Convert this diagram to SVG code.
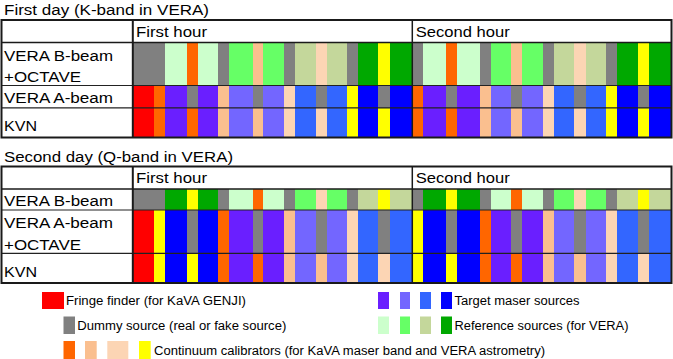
<svg xmlns="http://www.w3.org/2000/svg" width="673" height="359" viewBox="0 0 673 359">
<style>
.g{fill:#808080}.lg{fill:#CCFFCC}.o{fill:#FF6600}.gr{fill:#66FF66}.p{fill:#FABF8F}.lp{fill:#FCD5B4}.ol{fill:#C4D79B}.dg{fill:#00A800}.y{fill:#FFFF00}.r{fill:#FF0000}.pu{fill:#6A1FFF}.mp{fill:#7366FF}.b3{fill:#3366FF}.b{fill:#0000FF}
.strip rect{shape-rendering:crispEdges}
text{font-family:"Liberation Sans",Arial,sans-serif;font-size:14px;fill:#000}
.lt{font-size:12.5px}
.frame{fill:none;stroke:#1a1a1a;stroke-width:2}
.ln{stroke:#1a1a1a;stroke-width:1.5;fill:none}
.rl{stroke:#222;stroke-width:1.2;fill:none}
</style>
<rect width="673" height="359" fill="#fff"/>

<g id="day1">
<text x="4" y="14.5" textLength="205" lengthAdjust="spacingAndGlyphs">First day (K-band in VERA)</text>
<g id="day1-table">
<rect x="1.5" y="20" width="670" height="117.5" fill="#fff"/>
<g id="day1-vera-b" class="strip" transform="translate(0,42.5) scale(1,43)">
<rect class="g" x="133" width="32" height="1"/><rect class="lg" x="165" width="22" height="1"/><rect class="o" x="187" width="11" height="1"/><rect class="lg" x="198" width="20" height="1"/><rect class="g" x="218" width="11" height="1"/><rect class="gr" x="229" width="24" height="1"/><rect class="p" x="253" width="10" height="1"/><rect class="gr" x="263" width="21" height="1"/><rect class="g" x="284" width="11" height="1"/><rect class="ol" x="295" width="21" height="1"/><rect class="lp" x="316" width="11" height="1"/><rect class="ol" x="327" width="20" height="1"/><rect class="g" x="347" width="11" height="1"/><rect class="dg" x="358" width="20" height="1"/><rect class="y" x="378" width="12" height="1"/><rect class="dg" x="390" width="22" height="1"/>
<rect class="g" x="412" width="11" height="1"/><rect class="lg" x="423" width="23" height="1"/><rect class="o" x="446" width="11" height="1"/><rect class="lg" x="457" width="23" height="1"/><rect class="g" x="480" width="11" height="1"/><rect class="gr" x="491" width="20" height="1"/><rect class="p" x="511" width="11" height="1"/><rect class="gr" x="522" width="21" height="1"/><rect class="g" x="543" width="11" height="1"/><rect class="ol" x="554" width="20" height="1"/><rect class="lp" x="574" width="12" height="1"/><rect class="ol" x="586" width="20" height="1"/><rect class="g" x="606" width="11" height="1"/><rect class="dg" x="617" width="21" height="1"/><rect class="y" x="638" width="11" height="1"/><rect class="dg" x="649" width="22" height="1"/>
</g>
<g id="day1-vera-a" class="strip" transform="translate(0,85.5) scale(1,22.3)">
<rect class="r" x="133" width="21" height="1"/><rect class="o" x="154" width="11" height="1"/><rect class="pu" x="165" width="22" height="1"/><rect class="g" x="187" width="11" height="1"/><rect class="pu" x="198" width="20" height="1"/><rect class="p" x="218" width="11" height="1"/><rect class="mp" x="229" width="24" height="1"/><rect class="g" x="253" width="10" height="1"/><rect class="mp" x="263" width="21" height="1"/><rect class="lp" x="284" width="11" height="1"/><rect class="b3" x="295" width="21" height="1"/><rect class="g" x="316" width="11" height="1"/><rect class="b3" x="327" width="20" height="1"/><rect class="y" x="347" width="11" height="1"/><rect class="b" x="358" width="20" height="1"/><rect class="g" x="378" width="12" height="1"/><rect class="b" x="390" width="22" height="1"/>
<rect class="o" x="412" width="11" height="1"/><rect class="pu" x="423" width="23" height="1"/><rect class="g" x="446" width="11" height="1"/><rect class="pu" x="457" width="23" height="1"/><rect class="p" x="480" width="11" height="1"/><rect class="mp" x="491" width="20" height="1"/><rect class="g" x="511" width="11" height="1"/><rect class="mp" x="522" width="21" height="1"/><rect class="lp" x="543" width="11" height="1"/><rect class="b3" x="554" width="20" height="1"/><rect class="g" x="574" width="12" height="1"/><rect class="b3" x="586" width="20" height="1"/><rect class="y" x="606" width="11" height="1"/><rect class="b" x="617" width="21" height="1"/><rect class="g" x="638" width="11" height="1"/><rect class="b" x="649" width="22" height="1"/>
</g>
<g id="day1-kvn" class="strip" transform="translate(0,107.8) scale(1,29.4)">
<rect class="r" x="133" width="21" height="1"/><rect class="o" x="154" width="11" height="1"/><rect class="pu" x="165" width="22" height="1"/><rect class="o" x="187" width="11" height="1"/><rect class="pu" x="198" width="20" height="1"/><rect class="p" x="218" width="11" height="1"/><rect class="mp" x="229" width="24" height="1"/><rect class="p" x="253" width="10" height="1"/><rect class="mp" x="263" width="21" height="1"/><rect class="lp" x="284" width="11" height="1"/><rect class="b3" x="295" width="21" height="1"/><rect class="lp" x="316" width="11" height="1"/><rect class="b3" x="327" width="20" height="1"/><rect class="y" x="347" width="11" height="1"/><rect class="b" x="358" width="20" height="1"/><rect class="y" x="378" width="12" height="1"/><rect class="b" x="390" width="22" height="1"/>
<rect class="o" x="412" width="11" height="1"/><rect class="pu" x="423" width="23" height="1"/><rect class="o" x="446" width="11" height="1"/><rect class="pu" x="457" width="23" height="1"/><rect class="p" x="480" width="11" height="1"/><rect class="mp" x="491" width="20" height="1"/><rect class="p" x="511" width="11" height="1"/><rect class="mp" x="522" width="21" height="1"/><rect class="lp" x="543" width="11" height="1"/><rect class="b3" x="554" width="20" height="1"/><rect class="lp" x="574" width="12" height="1"/><rect class="b3" x="586" width="20" height="1"/><rect class="y" x="606" width="11" height="1"/><rect class="b" x="617" width="21" height="1"/><rect class="y" x="638" width="11" height="1"/><rect class="b" x="649" width="22" height="1"/>
</g>
<g id="day1-lines">
<line class="ln" x1="1.5" y1="42.5" x2="671.5" y2="42.5"/>
<line class="rl" x1="1.5" y1="85.5" x2="671.5" y2="85.5"/>
<line class="rl" x1="1.5" y1="107.8" x2="671.5" y2="107.8"/>
<line class="frame" x1="132.8" y1="20" x2="132.8" y2="137.5"/>
<line class="ln" x1="412.3" y1="20" x2="412.3" y2="137.5"/>
<rect class="frame" x="1.5" y="20" width="670" height="117.5"/>
</g>
<text x="136" y="36.5" textLength="71" lengthAdjust="spacingAndGlyphs">First hour</text>
<text x="415.7" y="36.5" textLength="94" lengthAdjust="spacingAndGlyphs">Second hour</text>
<text x="4" y="60.5" textLength="109" lengthAdjust="spacingAndGlyphs">VERA B-beam</text>
<text x="4" y="81.5" textLength="77" lengthAdjust="spacingAndGlyphs">+OCTAVE</text>
<text x="4" y="103" textLength="109" lengthAdjust="spacingAndGlyphs">VERA A-beam</text>
<text x="4" y="130.5" textLength="33" lengthAdjust="spacingAndGlyphs">KVN</text>
</g>
</g>

<g id="day2">
<text x="4" y="161.5" textLength="229" lengthAdjust="spacingAndGlyphs">Second day (Q-band in VERA)</text>
<g id="day2-table">
<rect x="1.5" y="166.5" width="670" height="116.5" fill="#fff"/>
<g id="day2-vera-b" class="strip" transform="translate(0,189) scale(1,21)">
<rect class="g" x="133" width="32" height="1"/><rect class="dg" x="165" width="22" height="1"/><rect class="y" x="187" width="11" height="1"/><rect class="dg" x="198" width="20" height="1"/><rect class="g" x="218" width="11" height="1"/><rect class="lg" x="229" width="24" height="1"/><rect class="o" x="253" width="10" height="1"/><rect class="lg" x="263" width="21" height="1"/><rect class="g" x="284" width="11" height="1"/><rect class="gr" x="295" width="21" height="1"/><rect class="lp" x="316" width="11" height="1"/><rect class="gr" x="327" width="20" height="1"/><rect class="g" x="347" width="11" height="1"/><rect class="ol" x="358" width="20" height="1"/><rect class="y" x="378" width="12" height="1"/><rect class="ol" x="390" width="22" height="1"/>
<rect class="g" x="412" width="11" height="1"/><rect class="dg" x="423" width="23" height="1"/><rect class="y" x="446" width="11" height="1"/><rect class="dg" x="457" width="23" height="1"/><rect class="g" x="480" width="11" height="1"/><rect class="lg" x="491" width="20" height="1"/><rect class="o" x="511" width="11" height="1"/><rect class="lg" x="522" width="21" height="1"/><rect class="g" x="543" width="11" height="1"/><rect class="gr" x="554" width="20" height="1"/><rect class="lp" x="574" width="12" height="1"/><rect class="gr" x="586" width="20" height="1"/><rect class="g" x="606" width="11" height="1"/><rect class="ol" x="617" width="21" height="1"/><rect class="y" x="638" width="11" height="1"/><rect class="ol" x="649" width="22" height="1"/>
</g>
<g id="day2-vera-a" class="strip" transform="translate(0,210) scale(1,43.3)">
<rect class="r" x="133" width="21" height="1"/><rect class="y" x="154" width="11" height="1"/><rect class="b" x="165" width="22" height="1"/><rect class="g" x="187" width="11" height="1"/><rect class="b" x="198" width="20" height="1"/><rect class="o" x="218" width="11" height="1"/><rect class="pu" x="229" width="24" height="1"/><rect class="g" x="253" width="10" height="1"/><rect class="pu" x="263" width="21" height="1"/><rect class="p" x="284" width="11" height="1"/><rect class="mp" x="295" width="21" height="1"/><rect class="g" x="316" width="11" height="1"/><rect class="mp" x="327" width="20" height="1"/><rect class="lp" x="347" width="11" height="1"/><rect class="b3" x="358" width="20" height="1"/><rect class="g" x="378" width="12" height="1"/><rect class="b3" x="390" width="22" height="1"/>
<rect class="y" x="412" width="11" height="1"/><rect class="b" x="423" width="23" height="1"/><rect class="g" x="446" width="11" height="1"/><rect class="b" x="457" width="23" height="1"/><rect class="o" x="480" width="11" height="1"/><rect class="pu" x="491" width="20" height="1"/><rect class="g" x="511" width="11" height="1"/><rect class="pu" x="522" width="21" height="1"/><rect class="p" x="543" width="11" height="1"/><rect class="mp" x="554" width="20" height="1"/><rect class="g" x="574" width="12" height="1"/><rect class="mp" x="586" width="20" height="1"/><rect class="lp" x="606" width="11" height="1"/><rect class="b3" x="617" width="21" height="1"/><rect class="g" x="638" width="11" height="1"/><rect class="b3" x="649" width="22" height="1"/>
</g>
<g id="day2-kvn" class="strip" transform="translate(0,253.3) scale(1,29.5)">
<rect class="r" x="133" width="21" height="1"/><rect class="y" x="154" width="11" height="1"/><rect class="b" x="165" width="22" height="1"/><rect class="y" x="187" width="11" height="1"/><rect class="b" x="198" width="20" height="1"/><rect class="o" x="218" width="11" height="1"/><rect class="pu" x="229" width="24" height="1"/><rect class="o" x="253" width="10" height="1"/><rect class="pu" x="263" width="21" height="1"/><rect class="p" x="284" width="11" height="1"/><rect class="mp" x="295" width="21" height="1"/><rect class="p" x="316" width="11" height="1"/><rect class="mp" x="327" width="20" height="1"/><rect class="lp" x="347" width="11" height="1"/><rect class="b3" x="358" width="20" height="1"/><rect class="lp" x="378" width="12" height="1"/><rect class="b3" x="390" width="22" height="1"/>
<rect class="y" x="412" width="11" height="1"/><rect class="b" x="423" width="23" height="1"/><rect class="y" x="446" width="11" height="1"/><rect class="b" x="457" width="23" height="1"/><rect class="o" x="480" width="11" height="1"/><rect class="pu" x="491" width="20" height="1"/><rect class="o" x="511" width="11" height="1"/><rect class="pu" x="522" width="21" height="1"/><rect class="p" x="543" width="11" height="1"/><rect class="mp" x="554" width="20" height="1"/><rect class="p" x="574" width="12" height="1"/><rect class="mp" x="586" width="20" height="1"/><rect class="lp" x="606" width="11" height="1"/><rect class="b3" x="617" width="21" height="1"/><rect class="lp" x="638" width="11" height="1"/><rect class="b3" x="649" width="22" height="1"/>
</g>
<g id="day2-lines">
<line class="ln" x1="1.5" y1="189" x2="671.5" y2="189"/>
<line class="rl" x1="1.5" y1="210" x2="671.5" y2="210"/>
<line class="rl" x1="1.5" y1="253.3" x2="671.5" y2="253.3"/>
<line class="frame" x1="132.8" y1="166.5" x2="132.8" y2="283"/>
<line class="ln" x1="412.3" y1="166.5" x2="412.3" y2="283"/>
<rect class="frame" x="1.5" y="166.5" width="670" height="116.5"/>
</g>
<text x="136" y="182.5" textLength="71" lengthAdjust="spacingAndGlyphs">First hour</text>
<text x="415.7" y="182.5" textLength="94" lengthAdjust="spacingAndGlyphs">Second hour</text>
<text x="4" y="206" textLength="109" lengthAdjust="spacingAndGlyphs">VERA B-beam</text>
<text x="4" y="227.5" textLength="109" lengthAdjust="spacingAndGlyphs">VERA A-beam</text>
<text x="4" y="249.5" textLength="77" lengthAdjust="spacingAndGlyphs">+OCTAVE</text>
<text x="4" y="276.5" textLength="33" lengthAdjust="spacingAndGlyphs">KVN</text>
</g>
</g>

<g id="legend">
<g id="legend-fringe">
<rect class="r" x="42" y="292" width="22" height="17"/>
<text class="lt" x="66" y="304.5" textLength="180" lengthAdjust="spacingAndGlyphs">Fringe finder (for KaVA GENJI)</text>
</g>
<g id="legend-target">
<rect class="pu" x="378" y="292" width="11" height="17"/><rect class="mp" x="400" y="292" width="10" height="17"/><rect class="b3" x="420" y="292" width="11" height="17"/><rect class="b" x="441" y="292" width="11" height="17"/>
<text class="lt" x="454.5" y="304.5" textLength="125" lengthAdjust="spacingAndGlyphs">Target maser sources</text>
</g>
<g id="legend-dummy">
<rect class="g" x="63.5" y="316.5" width="11.5" height="17.5"/>
<text class="lt" x="77.3" y="330" textLength="209" lengthAdjust="spacingAndGlyphs">Dummy source (real or fake source)</text>
</g>
<g id="legend-reference">
<rect class="lg" x="378" y="316.5" width="11" height="17.5"/><rect class="gr" x="400" y="316.5" width="10" height="17.5"/><rect class="ol" x="420" y="316.5" width="11" height="17.5"/><rect class="dg" x="441" y="316.5" width="11" height="17.5"/>
<text class="lt" x="454.5" y="330" textLength="174" lengthAdjust="spacingAndGlyphs">Reference sources (for VERA)</text>
</g>
<g id="legend-continuum">
<rect class="o" x="63.5" y="341" width="11.5" height="18"/><rect class="p" x="85" y="341" width="11.7" height="18"/><rect class="lp" x="107.3" y="341" width="21" height="18"/><rect class="y" x="139" y="341" width="11.7" height="18"/>
<text class="lt" x="154" y="355" textLength="391" lengthAdjust="spacingAndGlyphs">Continuum calibrators (for KaVA maser band and VERA astrometry)</text>
</g>
</g>
</svg>
